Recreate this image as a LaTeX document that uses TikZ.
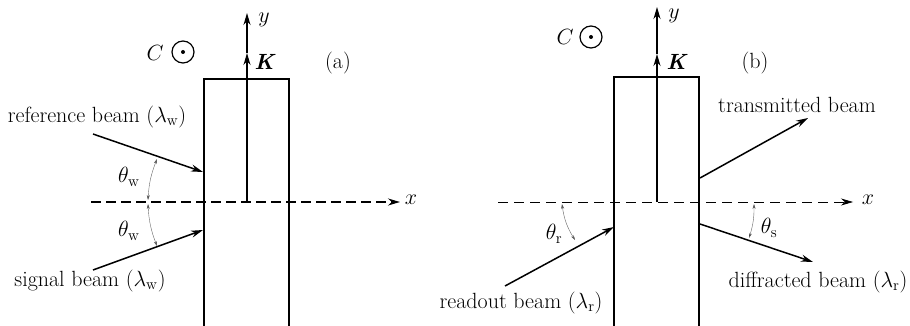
\documentclass[tikz,border=0pt]{standalone}
\usepackage{fix-cm}
\usetikzlibrary{arrows.meta}
\begin{document}
\begin{tikzpicture}[x=1pt,y=-1pt,
  font=\fontsize{22}{26}\selectfont,
  crystal/.style={draw,line width=1.2pt},
  beam/.style={line width=1.5pt,-{Stealth[length=12pt,width=7pt]}},
  axisline/.style={line width=1.3pt,-{Stealth[length=12pt,width=7pt]}},
  thickdash/.style={line width=1.6pt,dash pattern=on 10pt off 5pt,-{Stealth[length=12pt,width=7pt]}},
  thindash/.style={line width=0.7pt,dash pattern=on 10pt off 6pt,-{Stealth[length=12pt,width=7pt]}},
  anglearc/.style={line width=0.4pt,draw=black!60,{Stealth[length=5pt,width=3pt,fill=black]}-{Stealth[length=5pt,width=3pt,fill=black]}},
  dotcirc/.style={draw,circle,line width=1.2pt,minimum size=22pt,inner sep=0pt},
  lab/.style={inner sep=0pt}]
\useasboundingbox (0,0) rectangle (910,326);

% ---------- panel (a) ----------
\draw[crystal] (204,79) rectangle (289,327);
\coordinate (xa0) at (91,202);
\coordinate (xa1) at (400,202);
\coordinate (oa) at (247,202);
\coordinate (ka) at (247,53);
\coordinate (ya) at (247,13);
\draw[thickdash] (xa0) -- (xa1);
\draw[axisline] (oa) -- (ka);
\draw[axisline] (ka) -- (ya);
\node[lab] (xla) at (411,200) {$x$};
\node[lab] (yla) at (264,20) {$y$};
\node[lab] (kla) at (265,62) {\textbf{\textit{K}}};
\node[lab] (pa) at (338,63) {(a)};
\node[lab] (cla) at (155,53) {$C$};
\node[dotcirc] (cira) at (183,52) {};
\fill (cira.center) circle (2pt);

\coordinate (ra0) at (93,134);
\coordinate (ra1) at (203,172);
\coordinate (sa0) at (93,270);
\coordinate (sa1) at (203,230);
\draw[beam] (ra0) -- (ra1);
\draw[beam] (sa0) -- (sa1);
\node[lab] (reflab) at (97,117) {reference beam ($\lambda_{\mathrm{w}}$)};
\node[lab] (siglab) at (90,281) {signal beam ($\lambda_{\mathrm{w}}$)};

\coordinate (au0) at (148,200);
\coordinate (au1) at (157,159);
\coordinate (al0) at (148,204);
\coordinate (al1) at (157,246);
\draw[anglearc] (au0) to[bend left=9] (au1);
\draw[anglearc] (al0) to[bend right=9] (al1);
\node[lab] (thwa) at (129,177) {$\theta_{\mathrm{w}}$};
\node[lab] (thwb) at (129,231) {$\theta_{\mathrm{w}}$};

% ---------- panel (b) ----------
\draw[crystal] (614,77) rectangle (699,327);
\coordinate (xb0) at (498,202);
\coordinate (xb1) at (853,202);
\coordinate (ob) at (657,202);
\coordinate (kb) at (657,54);
\coordinate (yb) at (657,7);
\draw[thindash] (xb0) -- (xb1);
\draw[axisline] (ob) -- (kb);
\draw[axisline] (kb) -- (yb);
\node[lab] (xlb) at (868,200) {$x$};
\node[lab] (ylb) at (674,16) {$y$};
\node[lab] (klb) at (677,62) {\textbf{\textit{K}}};
\node[lab] (pb) at (755,63) {(b)};
\node[lab] (clb) at (565,37) {$C$};
\node[dotcirc] (cirb) at (591,37) {};
\fill (cirb.center) circle (2pt);

\coordinate (rd0) at (505,286);
\coordinate (rd1) at (614,227);
\coordinate (tr0) at (700,178);
\coordinate (tr1) at (808,118);
\coordinate (df0) at (700,224);
\coordinate (df1) at (813,262);
\draw[beam] (rd0) -- (rd1);
\draw[beam] (tr0) -- (tr1);
\draw[beam] (df0) -- (df1);
\node[lab] (trlab) at (797,105) {transmitted beam};
\node[lab] (dflab) at (818,282) {diffracted beam ($\lambda_{\mathrm{r}}$)};
\node[lab] (rdlab) at (521,303) {readout beam ($\lambda_{\mathrm{r}}$)};

\coordinate (ar0) at (562,204);
\coordinate (ar1) at (575,240);
\coordinate (as0) at (754,204);
\coordinate (as1) at (749,238);
\draw[anglearc] (ar0) to[bend right=12] (ar1);
\draw[anglearc] (as0) to[bend left=9] (as1);
\node[lab] (thr) at (554,234) {$\theta_{\mathrm{r}}$};
\node[lab] (ths) at (769,228) {$\theta_{\mathrm{s}}$};
\end{tikzpicture}
\end{document}
